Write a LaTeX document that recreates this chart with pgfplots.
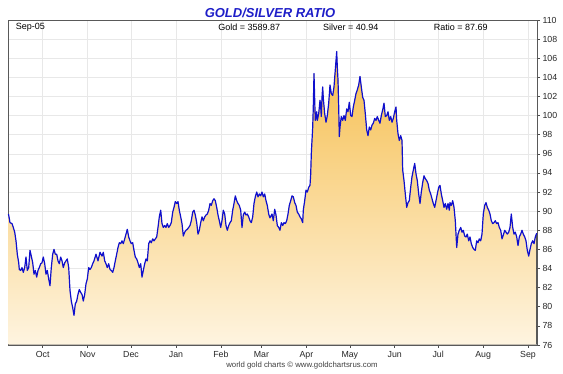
\documentclass[border=0pt]{standalone}
\usepackage{pgfplots}
\pgfplotsset{compat=1.18}
\usepackage{pgfplotstable}
\usepgfplotslibrary{fillbetween}
\usepackage{fontspec}
\setmainfont{Liberation Sans}
\definecolor{ratioblue}{RGB}{15,15,205}
\definecolor{titleblue}{RGB}{30,30,200}
\definecolor{goldtop}{RGB}{246,190,78}
\definecolor{goldbot}{RGB}{254,244,224}
\definecolor{gridgray}{RGB}{232,232,232}

% px = horizontal position in the reference picture, r = gold/silver ratio
\pgfplotstableread{
px r
8.5 89.7
10.0 88.8
12.0 88.7
13.3 88.3
14.7 87.8
16.0 86.9
17.3 85.5
18.7 84.6
19.3 83.9
20.7 83.8
22.0 84.1
23.3 83.6
24.7 84.1
26.0 85.2
27.3 83.8
28.7 84.1
30.0 85.9
31.3 85.3
32.7 84.6
34.0 83.4
35.3 83.8
36.7 83.1
38.0 83.8
39.3 84.1
40.7 84.5
42.0 84.6
43.3 85.2
44.7 84.5
46.0 83.4
47.3 83.8
48.7 82.9
50.0 82.2
51.3 84.1
52.7 85.5
54.0 86.0
55.3 85.5
56.7 85.5
58.0 84.8
59.3 84.5
60.7 85.2
62.0 84.8
63.3 84.1
64.7 84.6
66.0 84.8
67.3 85.0
68.7 84.1
70.0 81.7
71.3 80.6
72.7 79.9
74.0 79.1
75.3 80.3
76.7 80.6
78.0 81.3
79.3 81.8
80.7 81.5
82.0 81.3
83.3 80.6
84.7 81.3
86.0 82.4
87.3 82.9
88.7 84.1
90.0 83.9
91.3 84.1
92.7 84.5
94.0 84.8
96.0 85.5
98.0 84.8
100.0 85.7
102.0 85.3
103.3 85.7
104.7 84.8
106.0 84.5
107.3 84.1
108.7 84.5
110.0 83.9
111.3 83.8
112.7 83.6
114.0 84.1
115.3 84.8
116.7 85.5
118.0 86.2
119.3 86.7
120.7 86.6
122.0 86.9
123.3 86.6
124.7 87.1
126.0 87.6
127.3 88.1
128.7 87.3
130.0 86.9
131.3 86.6
132.7 86.7
134.0 85.9
135.3 85.2
136.7 85.0
138.0 84.6
139.3 84.1
140.7 84.5
142.0 83.1
143.3 83.8
144.7 84.5
146.0 85.0
147.3 84.8
148.7 86.6
150.0 86.9
151.3 86.7
152.7 87.1
154.0 86.9
155.3 87.1
156.7 87.3
158.0 88.3
159.3 89.4
160.7 90.1
162.0 88.7
163.3 88.3
164.7 88.5
166.0 88.3
167.3 88.7
168.7 88.3
170.0 88.5
171.3 88.8
172.7 89.9
174.0 90.4
175.3 91.0
176.7 90.8
178.0 91.0
179.3 90.1
180.7 89.4
182.0 88.7
183.3 87.4
184.7 87.8
186.0 88.0
187.3 88.1
188.7 88.3
190.0 88.5
191.3 89.0
192.7 89.9
194.0 90.1
195.3 89.6
196.7 88.8
198.0 87.6
199.3 88.0
200.7 88.8
202.0 89.4
203.3 89.0
204.7 89.4
206.0 89.6
207.3 89.7
208.7 90.1
210.0 90.8
211.3 90.6
212.7 91.1
214.0 91.3
215.3 91.1
216.7 90.4
218.0 89.6
219.3 89.0
220.7 88.3
222.0 89.0
223.3 90.1
224.7 89.7
226.0 88.5
227.3 88.0
228.7 88.5
230.0 88.8
231.3 89.0
232.7 90.1
234.0 90.8
235.3 91.6
236.7 91.1
238.0 90.8
239.3 90.6
240.7 90.1
242.0 88.3
243.3 89.6
244.7 89.9
246.0 89.6
247.3 89.7
248.7 89.4
250.0 89.0
251.3 88.8
252.7 89.4
254.0 90.8
255.3 91.5
256.7 92.0
258.0 91.5
259.3 91.8
260.7 91.6
262.0 92.0
263.3 91.5
264.7 91.8
266.0 91.1
267.3 90.6
268.7 89.7
270.0 89.3
272.0 89.7
273.3 89.0
274.7 90.2
276.0 89.6
277.3 88.5
278.7 88.3
280.0 88.0
281.3 88.8
282.7 88.5
284.0 88.8
285.3 88.7
286.7 89.0
288.0 89.7
289.3 90.6
290.7 91.1
292.0 91.6
293.3 91.5
294.7 90.9
296.0 90.6
297.3 89.9
298.7 89.7
300.0 89.4
301.3 89.2
302.7 88.8
303.3 90.1
304.7 91.1
306.0 92.2
307.3 92.0
308.7 92.5
310.0 92.7
310.7 93.9
311.3 96.0
312.0 97.4
312.7 98.8
313.3 100.9
314.0 104.4
314.7 101.6
315.3 99.5
316.0 99.9
316.7 100.4
317.3 99.5
318.7 100.2
320.0 101.6
320.7 100.9
321.3 99.9
322.0 101.9
322.7 103.0
323.3 101.8
324.7 100.2
326.0 99.3
327.3 100.0
328.7 101.3
330.0 103.2
331.3 102.3
332.7 102.1
334.0 103.0
335.3 104.8
336.7 106.7
337.3 105.1
338.0 103.7
338.7 100.9
339.3 97.8
340.0 98.8
341.3 99.9
342.7 99.5
344.0 100.0
345.3 99.5
346.7 100.7
348.0 100.4
349.3 101.4
350.7 100.0
352.0 99.9
353.3 100.9
354.7 101.6
356.0 102.3
357.3 102.7
358.7 103.2
360.0 104.1
361.3 103.0
362.7 101.9
364.0 101.6
365.3 100.2
366.7 98.5
368.0 97.9
369.3 98.8
370.7 98.5
372.0 99.0
373.3 99.2
374.7 99.7
376.0 99.5
377.3 99.9
378.7 99.5
380.0 99.2
381.3 100.0
382.7 100.6
384.0 101.3
385.3 99.9
386.7 100.0
388.0 100.4
389.3 99.5
390.7 99.9
392.0 99.3
393.3 99.7
394.7 100.4
396.0 100.9
396.7 99.5
398.0 98.1
399.3 97.4
400.7 97.9
402.0 97.4
402.7 94.3
404.0 93.2
405.3 91.8
406.7 90.4
408.0 90.9
409.3 91.1
410.7 92.5
412.0 93.6
413.3 94.3
414.7 95.0
416.0 93.9
417.3 93.2
418.7 91.8
420.0 90.8
421.3 92.0
422.7 93.0
424.0 93.7
425.3 93.4
426.7 93.2
428.0 92.9
429.3 92.2
430.7 91.8
432.0 91.3
433.3 90.8
434.7 90.4
436.0 91.1
437.3 91.8
438.7 92.5
440.0 92.7
441.3 91.8
442.7 91.1
444.0 90.4
445.3 90.8
446.7 90.2
448.0 90.8
449.3 90.1
450.0 90.9
451.3 90.6
452.7 91.1
454.0 90.4
455.3 89.0
456.7 86.2
458.0 87.6
459.3 88.0
460.7 88.3
462.0 87.8
463.3 88.0
464.7 87.4
466.0 87.3
467.3 87.6
468.7 86.9
470.0 87.3
471.3 86.6
472.7 86.2
474.0 86.0
475.3 85.9
476.7 86.9
478.0 86.7
479.3 87.1
480.7 86.9
482.0 87.6
483.3 89.7
484.7 90.6
486.0 90.9
487.3 90.4
488.7 90.1
490.0 89.7
491.3 89.0
492.7 88.7
494.0 88.8
495.3 89.0
496.7 88.7
498.0 88.8
499.3 88.3
500.7 88.0
502.0 87.1
503.3 87.5
504.7 88.0
506.0 87.8
507.3 87.6
508.7 87.8
510.0 88.3
511.3 89.7
512.7 88.3
514.0 87.6
515.3 87.8
516.7 87.3
518.0 86.4
519.3 87.3
520.7 87.6
522.0 88.0
523.3 87.6
524.7 87.3
526.0 86.9
527.3 85.9
528.7 85.3
530.0 86.0
531.3 86.6
532.7 86.9
534.0 86.6
535.3 87.3
536.7 87.7
}\ratiodata

\pgfplotstableread{
px r
8.5 76.04
536.7 76.04
}\basedata

\begin{document}
\begin{tikzpicture}
\begin{axis}[
  scale only axis, width=529pt, height=325pt,
  xmin=2.05, xmax=367.2, ymin=76, ymax=110,
  xtick={26,57,87,118,149,177,208,238,269,299,330,361},
  xticklabels={Oct,Nov,Dec,Jan,Feb,Mar,Apr,May,Jun,Jul,Aug,Sep},
  ytick={76,78,...,110},
  xtick pos=bottom, ytick pos=right, yticklabel pos=right,
  tick align=outside, major tick length=3pt,
  grid=major, grid style={gridgray, line width=0.5pt},
  axis line style={draw=black!65, line width=0.8pt},
  tick style={black!70, line width=0.6pt},
  ticklabel style={font=\fontsize{8.8}{10}\selectfont, text=black!85},
  /pgf/number format/assume math mode=true,
  yticklabel style={xshift=-1pt},
  clip=false,
]
\addplot[draw=none, name path=base, forget plot] table[x expr={(\thisrow{px}-5.03)/1.4487}, y=r] {\basedata};
\addplot[draw=none, name path=ratio, forget plot] table[x expr={(\thisrow{px}-5.03)/1.4487}, y=r] {\ratiodata};
\addplot[draw=none, top color=goldtop, bottom color=goldbot, forget plot] fill between[of=ratio and base];
\addplot[ratioblue, line width=1.2pt, line join=round] table[x expr={(\thisrow{px}-5.03)/1.4487}, y=r] {\ratiodata};

\node[anchor=west, font=\fontsize{9}{10}\selectfont] at (rel axis cs:0.008,0.978) {Sep-05};
\node[font=\fontsize{9}{10}\selectfont] at (rel axis cs:0.456,0.978) {Gold = 3589.87};
\node[font=\fontsize{9}{10}\selectfont] at (rel axis cs:0.648,0.978) {Silver = 40.94};
\node[font=\fontsize{9}{10}\selectfont] at (rel axis cs:0.856,0.978) {Ratio = 87.69};
\end{axis}
\node[font=\fontsize{13}{15}\selectfont\bfseries\itshape, text=titleblue] at (262pt,332pt) {GOLD/SILVER RATIO};
\node[font=\fontsize{7.8}{9}\selectfont, text=black!75] at (294pt,-20pt) {world gold charts © www.goldchartsrus.com};
\pgfresetboundingbox
\path[use as bounding box] (-8pt,-29pt) rectangle (555pt,345pt);
\end{tikzpicture}
\end{document}
